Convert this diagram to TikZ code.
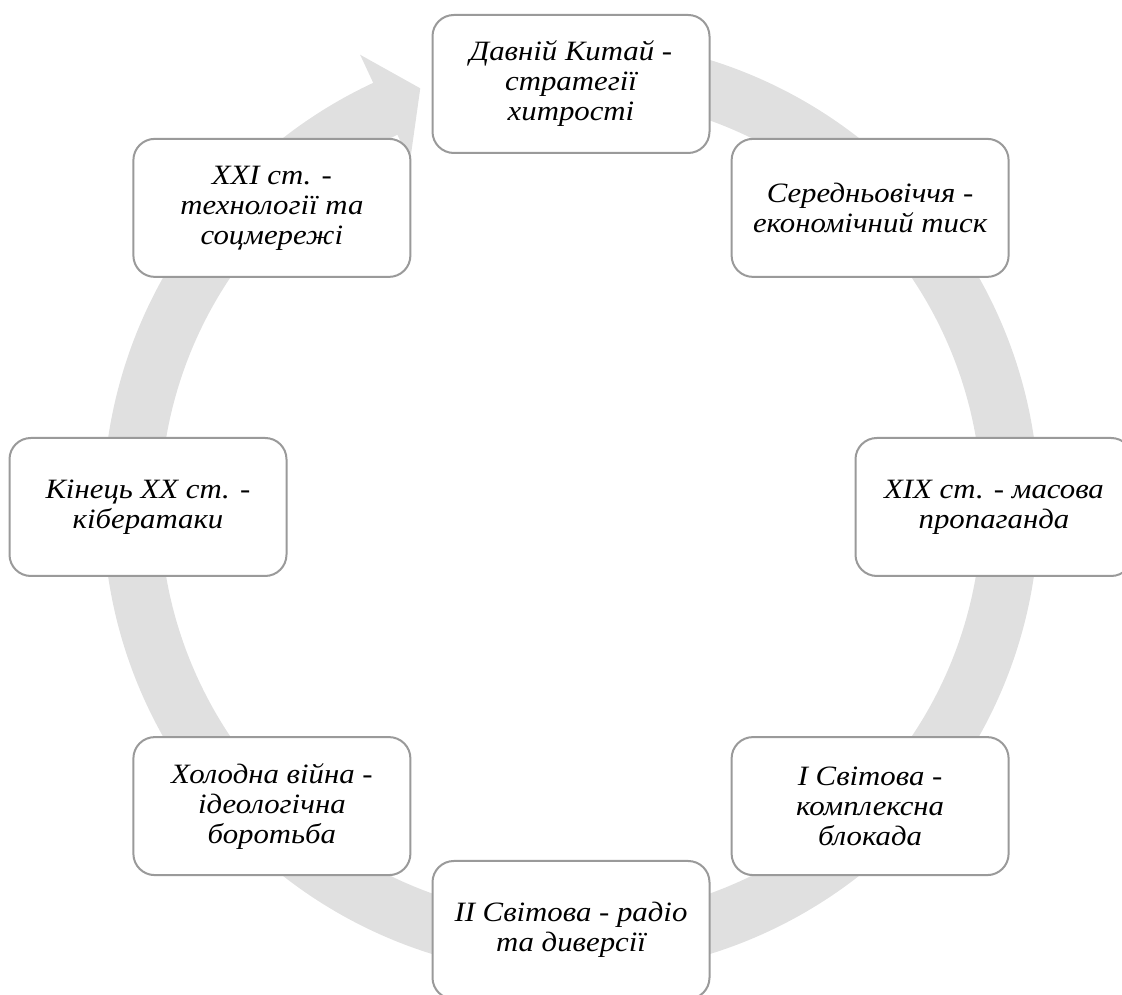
\documentclass[tikz,border=0pt]{standalone}
\usepackage{fontspec}
\setmainfont{Liberation Serif}[FakeStretch=1.1]
\usetikzlibrary{calc}
\definecolor{ringgrey}{HTML}{E0E0E0}
\definecolor{boxline}{HTML}{9A9A9A}
\begin{document}
\begin{tikzpicture}[x=0.75pt,y=0.75pt,
  cyclebox/.style={draw=boxline, line width=1.5pt, fill=white, rounded corners=16pt,
    minimum width=207.75pt, minimum height=103.5pt, align=center, inner sep=4pt,
    font=\itshape\fontsize{21}{22.5}\selectfont}]
\useasboundingbox (0,0) rectangle (1122,995);
\clip (0,0) rectangle (1122,995);
\coordinate (C) at (571,488);
% circular arrow
\fill[ringgrey] ($(C)+(90:351pt)$) arc[start angle=90,end angle=-245,radius=351pt]
  -- ($(C)+(115:374.25pt)$) -- ($(C)+(109.8:333.75pt)$) -- ($(C)+(115:285.75pt)$)
  -- ($(C)+(115:308pt)$) arc[start angle=-245,end angle=90,radius=308pt] -- cycle;
% boxes
\node[cyclebox] (n1) at ($(C)+(90:317.25pt)$) {Давній Китай -\\стратегії\\хитрості};
\node[cyclebox] (n2) at ($(C)+(45:317.25pt)$) {Середньовіччя -\\економічний тиск};
\node[cyclebox] (n3) at ($(C)+(0:317.25pt)$) {XIX ст. - масова\\пропаганда};
\node[cyclebox] (n4) at ($(C)+(-45:317.25pt)$) {I Світова -\\комплексна\\блокада};
\node[cyclebox] (n5) at ($(C)+(-90:317.25pt)$) {II Світова - радіо\\та диверсії};
\node[cyclebox] (n6) at ($(C)+(-135:317.25pt)$) {Холодна війна -\\ідеологічна\\боротьба};
\node[cyclebox] (n7) at ($(C)+(180:317.25pt)$) {Кінець XX ст. -\\кібератаки};
\node[cyclebox] (n8) at ($(C)+(135:317.25pt)$) {XXI ст. -\\технології та\\соцмережі};
\end{tikzpicture}
\end{document}
